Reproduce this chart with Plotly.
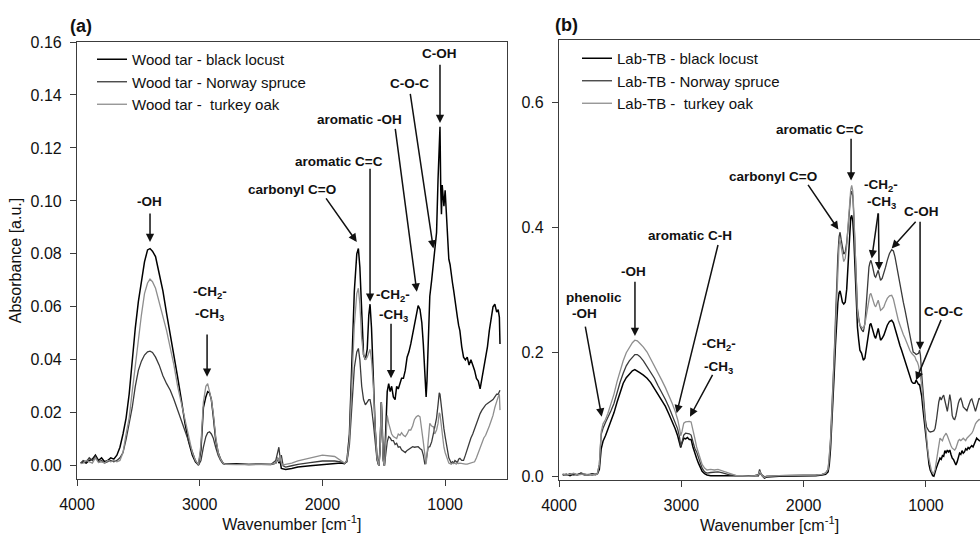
import plotly.graph_objects as go

# ---------------- DATA: panel (a) wood tar ----------------
wn_a = [3970, 3950, 3925, 3900, 3875, 3850, 3825, 3800, 3775, 3750,
        3725, 3700, 3675, 3650, 3625, 3600, 3575, 3550, 3525, 3500,
        3475, 3450, 3425, 3405, 3385, 3360, 3330, 3300, 3270, 3240,
        3210, 3180, 3150, 3120, 3090, 3060, 3035, 3010, 2990, 2970,
        2950, 2935, 2920, 2905, 2890, 2870, 2850, 2830, 2810, 2790,
        2700, 2600, 2500, 2420, 2380, 2365, 2355, 2345, 2335, 2320,
        2300, 2250, 2200, 2100, 2000, 1900, 1850, 1820, 1800, 1780,
        1760, 1740, 1720, 1707, 1695, 1680, 1665, 1650, 1635, 1622,
        1612, 1600, 1585, 1570, 1555, 1540, 1530, 1520, 1515, 1505,
        1495, 1485, 1472, 1460, 1448, 1436, 1422, 1408, 1395, 1382,
        1368, 1355, 1340, 1325, 1310, 1295, 1280, 1265, 1250, 1235,
        1220, 1205, 1190, 1178, 1165, 1155, 1148, 1138, 1125, 1110,
        1096, 1085, 1070, 1058, 1048, 1042, 1036, 1030, 1024, 1018,
        1010, 1000, 990, 980, 970, 960, 950, 940, 930, 920,
        910, 900, 890, 880, 865, 850, 835, 820, 805, 790,
        775, 760, 745, 730, 715, 700, 685, 670, 655, 640,
        625, 610, 595, 580, 568, 558, 553]

tar_black_locust = [
    0.001, 0.0015, 0.001, 0.002, 0.0025, 0.004, 0.002, 0.003, 0.0015, 0.002,
    0.003, 0.0025, 0.004, 0.007, 0.012, 0.018, 0.027, 0.040, 0.052, 0.062,
    0.069, 0.077, 0.0815, 0.082, 0.081, 0.079, 0.0725, 0.066, 0.0575, 0.050,
    0.0415, 0.0335, 0.025, 0.016, 0.009, 0.004, 0.0015, 0.0003, 0.006, 0.022,
    0.026, 0.028, 0.0275, 0.025, 0.019, 0.010, 0.005, 0.0025, 0.001, 0.0006,
    0.0008, 0.0005, 0.0006, 0.0005, 0.001, 0.003, 0.001, 0.002, -0.001, -0.0012,
    -0.0014, -0.001, -0.0005, 0.0, 0.0005, 0.001, 0.001, 0.0008, 0.002, 0.012,
    0.040, 0.066, 0.080, 0.082, 0.075, 0.055, 0.042, 0.040, 0.044, 0.057,
    0.061, 0.052, 0.030, 0.014, 0.003, 0.0, 0.006, 0.024, 0.018, 0.003,
    0.0, 0.012, 0.028, 0.031, 0.028, 0.030, 0.026, 0.025, 0.030, 0.029,
    0.031, 0.033, 0.033, 0.036, 0.041, 0.043, 0.046, 0.050, 0.054, 0.058,
    0.0605, 0.059, 0.054, 0.046, 0.035, 0.026, 0.032, 0.050, 0.064, 0.070,
    0.076, 0.081, 0.088, 0.108, 0.122, 0.128, 0.105, 0.095, 0.106, 0.100,
    0.098, 0.104, 0.094, 0.084, 0.078, 0.076, 0.071, 0.069, 0.066, 0.062,
    0.058, 0.056, 0.053, 0.051, 0.045, 0.041, 0.040, 0.041, 0.038, 0.040,
    0.038, 0.036, 0.033, 0.032, 0.029, 0.033, 0.037, 0.041, 0.045, 0.051,
    0.056, 0.060, 0.061, 0.058, 0.059, 0.056, 0.046]

tar_norway_spruce = [
    0.001, 0.002, 0.0015, 0.003, 0.002, 0.0035, 0.0015, 0.002, 0.001, 0.0015,
    0.002, 0.0015, 0.002, 0.003, 0.005, 0.010, 0.016, 0.022, 0.030, 0.036,
    0.0395, 0.0418, 0.043, 0.0433, 0.0428, 0.041, 0.038, 0.034, 0.031, 0.0285,
    0.025, 0.021, 0.017, 0.013, 0.0085, 0.0045, 0.002, 0.0002, 0.002, 0.007,
    0.011, 0.0125, 0.0128, 0.012, 0.0105, 0.007, 0.004, 0.002, 0.0008, 0.0005,
    0.0005, 0.0004, 0.0005, 0.0005, 0.002, 0.005, 0.007, 0.003, 0.004, 0.0,
    -0.0005, 0.0, 0.0005, 0.0012, 0.0018, 0.0018, 0.0015, 0.001, 0.0015, 0.008,
    0.024, 0.037, 0.043, 0.0443, 0.040, 0.030, 0.025, 0.023, 0.024, 0.025,
    0.025, 0.022, 0.016, 0.008, 0.002, 0.0, 0.008, 0.024, 0.015, 0.002,
    0.0, 0.005, 0.009, 0.011, 0.0105, 0.0095, 0.0095, 0.008, 0.0085, 0.007,
    0.0072, 0.006, 0.0055, 0.005, 0.0058, 0.0062, 0.0068, 0.0072, 0.007, 0.0072,
    0.0072, 0.0065, 0.006, 0.004, 0.0005, 0.002, 0.005, 0.007, 0.0072, 0.009,
    0.012, 0.015, 0.018, 0.023, 0.0275, 0.027, 0.024, 0.0235, 0.020, 0.017,
    0.014, 0.011, 0.008, 0.005, 0.003, 0.002, 0.001, 0.0015, 0.001, 0.002,
    0.0015, 0.0012, 0.0025, 0.0028, 0.002, 0.002, 0.004, 0.0065, 0.0085, 0.0105,
    0.012, 0.014, 0.016, 0.018, 0.0197, 0.021, 0.022, 0.023, 0.0235, 0.024,
    0.0245, 0.025, 0.026, 0.027, 0.027, 0.028, 0.0285]

tar_turkey_oak = [
    0.0008, 0.001, 0.002, 0.0015, 0.001, 0.003, 0.0012, 0.0015, 0.001, 0.002,
    0.0015, 0.002, 0.0015, 0.002, 0.005, 0.012, 0.018, 0.028, 0.038, 0.048,
    0.057, 0.065, 0.069, 0.0705, 0.0695, 0.067, 0.062, 0.057, 0.051, 0.0445,
    0.038, 0.030, 0.0235, 0.017, 0.0105, 0.005, 0.002, 0.0004, 0.008, 0.024,
    0.030, 0.031, 0.028, 0.025, 0.020, 0.011, 0.005, 0.0025, 0.001, 0.0005,
    0.0004, 0.0004, 0.0005, 0.0005, 0.001, 0.003, 0.0015, 0.004, 0.001, 0.0003,
    0.0005, 0.001, 0.0018, 0.003, 0.004, 0.0035, 0.002, 0.001, 0.002, 0.010,
    0.032, 0.053, 0.065, 0.067, 0.061, 0.048, 0.042, 0.040, 0.041, 0.043,
    0.044, 0.040, 0.030, 0.014, 0.003, 0.0, 0.006, 0.024, 0.017, 0.002,
    0.0, 0.009, 0.019, 0.016, 0.014, 0.012, 0.011, 0.0105, 0.0103, 0.012,
    0.0115, 0.0125, 0.0115, 0.011, 0.012, 0.0135, 0.0135, 0.015, 0.0175, 0.0185,
    0.019, 0.0185, 0.014, 0.009, 0.004, 0.0006, 0.004, 0.010, 0.016, 0.015,
    0.0147, 0.012, 0.0135, 0.016, 0.020, 0.0195, 0.017, 0.015, 0.012, 0.010,
    0.007, 0.005, 0.0034, 0.002, 0.001, 0.0008, 0.0006, 0.001, 0.0008, 0.001,
    0.0006, 0.001, 0.0008, 0.001, 0.0008, 0.0007, 0.0006, 0.0006, 0.0008, 0.001,
    0.0012, 0.0015, 0.003, 0.005, 0.0072, 0.009, 0.0105, 0.0115, 0.013, 0.015,
    0.017, 0.019, 0.022, 0.0245, 0.026, 0.027, 0.021]

# ---------------- DATA: panel (b) Lab-TB ----------------
wn_b = [3970, 3940, 3910, 3880, 3850, 3820, 3790, 3760, 3730, 3700,
        3685, 3670, 3655, 3640, 3620, 3600, 3575, 3550, 3525, 3500,
        3475, 3450, 3425, 3400, 3380, 3360, 3340, 3310, 3280, 3250,
        3220, 3190, 3160, 3130, 3100, 3075, 3050, 3030, 3015, 3005,
        2995, 2980, 2965, 2950, 2935, 2920, 2905, 2890, 2875, 2860,
        2845, 2830, 2810, 2790, 2760, 2730, 2700, 2670, 2640, 2600,
        2550, 2500, 2450, 2400, 2370, 2360, 2350, 2340, 2320, 2300,
        2200, 2100, 2000, 1900, 1850, 1820, 1800, 1790, 1780, 1770,
        1760, 1750, 1740, 1730, 1720, 1710, 1702, 1693, 1683, 1672,
        1660, 1648, 1636, 1625, 1615, 1607, 1598, 1590, 1580, 1570,
        1560, 1550, 1540, 1526, 1512, 1499, 1485, 1475, 1466, 1458,
        1450, 1440, 1430, 1420, 1411, 1400, 1390, 1380, 1371, 1358,
        1344, 1330, 1316, 1298, 1280, 1266, 1253, 1240, 1226, 1212,
        1199, 1185, 1171, 1158, 1144, 1130, 1117, 1104, 1090, 1080,
        1070, 1060, 1052, 1045, 1035, 1025, 1015, 1005, 995, 985,
        975, 965, 955, 945, 935, 925, 915, 905, 895, 885,
        875, 865, 855, 845, 835, 825, 815, 805, 795, 785,
        775, 765, 755, 745, 735, 725, 715, 705, 695, 685,
        675, 665, 655, 645, 635, 625, 615, 605, 595, 585,
        575, 565, 558]

tb_black_locust = [
    0.003, 0.004, 0.002, 0.005, 0.003, 0.006, 0.004, 0.003, 0.005, 0.004,
    0.005, 0.012, 0.045, 0.057, 0.066, 0.076, 0.089, 0.103, 0.120, 0.136,
    0.150, 0.159, 0.165, 0.170, 0.172, 0.170, 0.167, 0.163, 0.158, 0.151,
    0.142, 0.133, 0.124, 0.113, 0.100, 0.089, 0.077, 0.066, 0.055, 0.047,
    0.054, 0.062, 0.061, 0.063, 0.060, 0.060, 0.048, 0.037, 0.030, 0.022,
    0.015, 0.009, 0.005, 0.003, 0.002, 0.002, 0.002, 0.002, 0.0015, 0.001,
    0.001, 0.001, 0.0015, 0.001, 0.002, 0.008, 0.004, 0.002, -0.002, 0.0,
    0.001, 0.001, 0.002, 0.002, 0.003, 0.004, 0.008, 0.020, 0.045, 0.080,
    0.120, 0.165, 0.210, 0.250, 0.280, 0.295, 0.298, 0.290, 0.280, 0.277,
    0.280, 0.300, 0.340, 0.390, 0.415, 0.419, 0.410, 0.385, 0.331, 0.280,
    0.240, 0.220, 0.203, 0.198, 0.187, 0.190, 0.2085, 0.228, 0.240, 0.244,
    0.246, 0.238, 0.230, 0.225, 0.222, 0.232, 0.238, 0.228, 0.219, 0.222,
    0.227, 0.235, 0.243, 0.249, 0.251, 0.247, 0.238, 0.228, 0.2165, 0.210,
    0.203, 0.195, 0.187, 0.178, 0.1685, 0.160, 0.1525, 0.150, 0.150, 0.155,
    0.152, 0.148, 0.148, 0.142, 0.130, 0.110, 0.090, 0.070, 0.050, 0.033,
    0.020, 0.011, 0.005, 0.002, 0.001, 0.006, 0.014, 0.020, 0.026, 0.030,
    0.028, 0.034, 0.033, 0.042, 0.038, 0.043, 0.040, 0.043, 0.036, 0.030,
    0.028, 0.022, 0.019, 0.024, 0.032, 0.038, 0.036, 0.042, 0.038, 0.040,
    0.045, 0.043, 0.047, 0.045, 0.048, 0.050, 0.048, 0.052, 0.058, 0.062,
    0.060, 0.058, 0.057]

tb_norway_spruce = [
    0.004, 0.003, 0.005, 0.003, 0.004, 0.005, 0.003, 0.004, 0.003, 0.004,
    0.006, 0.020, 0.068, 0.078, 0.087, 0.095, 0.106, 0.118, 0.136, 0.152,
    0.166, 0.178, 0.186, 0.192, 0.196, 0.196, 0.193, 0.186, 0.177, 0.167,
    0.158, 0.146, 0.136, 0.124, 0.111, 0.099, 0.088, 0.077, 0.064, 0.049,
    0.055, 0.067, 0.070, 0.070, 0.069, 0.067, 0.056, 0.046, 0.040, 0.031,
    0.022, 0.014, 0.008, 0.006, 0.007, 0.008, 0.008, 0.007, 0.005, 0.003,
    0.002, 0.002, 0.002, 0.002, 0.004, 0.012, 0.006, 0.003, 0.0, 0.001,
    0.002, 0.002, 0.003, 0.003, 0.004, 0.006, 0.012, 0.030, 0.060, 0.100,
    0.145, 0.195, 0.250, 0.310, 0.355, 0.385, 0.392, 0.380, 0.365, 0.357,
    0.360, 0.375, 0.400, 0.435, 0.452, 0.458, 0.450, 0.420, 0.368, 0.310,
    0.270, 0.255, 0.243, 0.236, 0.2325, 0.246, 0.288, 0.320, 0.336, 0.343,
    0.347, 0.340, 0.3285, 0.322, 0.320, 0.326, 0.331, 0.322, 0.315, 0.318,
    0.326, 0.336, 0.347, 0.358, 0.364, 0.362, 0.3525, 0.338, 0.3205, 0.307,
    0.294, 0.280, 0.267, 0.254, 0.2405, 0.225, 0.2085, 0.200, 0.198, 0.196,
    0.197, 0.198, 0.203, 0.195, 0.165, 0.135, 0.110, 0.092, 0.080, 0.075,
    0.073, 0.072, 0.072, 0.073, 0.074, 0.078, 0.090, 0.107, 0.120, 0.128,
    0.123, 0.128, 0.131, 0.122, 0.112, 0.105, 0.118, 0.132, 0.120, 0.098,
    0.093, 0.092, 0.098, 0.110, 0.118, 0.124, 0.126, 0.120, 0.112, 0.110,
    0.108, 0.106, 0.112, 0.118, 0.123, 0.125, 0.118, 0.110, 0.105, 0.112,
    0.120, 0.126, 0.124]

tb_turkey_oak = [
    0.005, 0.003, 0.004, 0.006, 0.003, 0.004, 0.005, 0.003, 0.004, 0.003,
    0.006, 0.020, 0.072, 0.085, 0.092, 0.102, 0.117, 0.133, 0.153, 0.171,
    0.186, 0.199, 0.208, 0.215, 0.219, 0.218, 0.214, 0.208, 0.200, 0.189,
    0.179, 0.167, 0.155, 0.143, 0.130, 0.118, 0.105, 0.092, 0.078, 0.066,
    0.072, 0.086, 0.088, 0.0885, 0.089, 0.088, 0.077, 0.062, 0.048, 0.038,
    0.027, 0.020, 0.014, 0.011, 0.012, 0.011, 0.012, 0.010, 0.008, 0.005,
    0.002, 0.002, 0.001, 0.002, 0.003, 0.009, 0.005, 0.002, -0.001, 0.001,
    0.002, 0.002, 0.002, 0.003, 0.004, 0.006, 0.012, 0.030, 0.058, 0.100,
    0.145, 0.195, 0.250, 0.305, 0.345, 0.372, 0.379, 0.368, 0.352, 0.345,
    0.350, 0.370, 0.405, 0.440, 0.460, 0.467, 0.458, 0.425, 0.368, 0.305,
    0.265, 0.252, 0.243, 0.240, 0.238, 0.245, 0.262, 0.278, 0.288, 0.292,
    0.294, 0.287, 0.280, 0.275, 0.2725, 0.278, 0.283, 0.275, 0.267, 0.269,
    0.2725, 0.280, 0.286, 0.290, 0.291, 0.285, 0.2725, 0.262, 0.251, 0.243,
    0.235, 0.228, 0.222, 0.215, 0.2085, 0.202, 0.198, 0.195, 0.1925, 0.187,
    0.184, 0.178, 0.170, 0.162, 0.148, 0.128, 0.105, 0.082, 0.062, 0.043,
    0.028, 0.018, 0.010, 0.006, 0.006, 0.012, 0.025, 0.040, 0.055, 0.062,
    0.060, 0.058, 0.064, 0.068, 0.070, 0.066, 0.060, 0.055, 0.050, 0.046,
    0.044, 0.043, 0.046, 0.052, 0.058, 0.060, 0.058, 0.060, 0.062, 0.060,
    0.058, 0.062, 0.064, 0.066, 0.068, 0.070, 0.074, 0.080, 0.085, 0.088,
    0.090, 0.092, 0.091]

names_a = ["Wood tar - black locust", "Wood tar - Norway spruce", "Wood tar - \u00a0turkey oak"]
names_b = ["Lab-TB - black locust", "Lab-TB - Norway spruce", "Lab-TB - \u00a0turkey oak"]

for arr in (tar_black_locust, tar_norway_spruce, tar_turkey_oak):
    assert len(arr) == len(wn_a), len(arr)
for arr in (tb_black_locust, tb_norway_spruce, tb_turkey_oak):
    assert len(arr) == len(wn_b), len(arr)

# ---------------- STYLE ----------------
FONT = "Liberation Sans, Arial, sans-serif"
COLORS = ["#000000", "#3a3a3a", "#8e8e8e"]
WIDTHS = [1.5, 1.3, 1.3]
AXC = "#3c3c3c"
W, H = 980, 534

fig = go.Figure()
for name, ys, c, w in zip(names_a, [tar_black_locust, tar_norway_spruce, tar_turkey_oak], COLORS, WIDTHS):
    fig.add_trace(go.Scatter(x=wn_a, y=ys, name=name, mode="lines",
                             line=dict(color=c, width=w), xaxis="x", yaxis="y", legend="legend"))
for name, ys, c, w in zip(names_b, [tb_black_locust, tb_norway_spruce, tb_turkey_oak], COLORS, WIDTHS):
    fig.add_trace(go.Scatter(x=wn_b, y=ys, name=name, mode="lines",
                             line=dict(color=c, width=w), xaxis="x2", yaxis="y2", legend="legend2"))

def px(v, total):
    return v / total

axis_common = dict(showline=True, linecolor=AXC, linewidth=1.2, mirror=True, showgrid=False,
                   zeroline=False, ticks="outside", ticklen=6, tickcolor=AXC, tickwidth=1.2,
                   tickfont=dict(family=FONT, size=16, color="#111"), ticklabelstandoff=5,
                   automargin=False)
LEGFONT = dict(family=FONT, size=15, color="#111")

fig.update_layout(
    width=W, height=H, margin=dict(l=0, r=0, t=0, b=0, autoexpand=False),
    paper_bgcolor="white", plot_bgcolor="white",
    font=dict(family=FONT, size=16, color="#111"),
    xaxis=dict(domain=[px(77, W), px(506.5, W)], range=[4000, 500], anchor="y",
               tickvals=[4000, 3000, 2000, 1000],
               title=dict(text="Wavenumber [cm<sup>-1</sup>]", standoff=4,
                          font=dict(family=FONT, size=16, color="#111")), **axis_common),
    yaxis=dict(domain=[1 - 479 / H, 1 - 42 / H], range=[-0.005, 0.16], anchor="x",
               tickvals=[0, 0.02, 0.04, 0.06, 0.08, 0.10, 0.12, 0.14, 0.16], tickformat=".2f",
               title=dict(text="Absorbance [a.u.]", standoff=4,
                          font=dict(family=FONT, size=16, color="#111")), **axis_common),
    xaxis2=dict(domain=[px(559, W), 1.0], range=[4000, 558], anchor="y2",
                tickvals=[4000, 3000, 2000, 1000],
                title=dict(text="Wavenumber [cm<sup>-1</sup>]", standoff=4,
                           font=dict(family=FONT, size=16, color="#111")), **axis_common),
    yaxis2=dict(domain=[1 - 480 / H, 1 - 40 / H], range=[-0.005, 0.7], anchor="x2",
                tickvals=[0, 0.2, 0.4, 0.6], tickformat=".1f", **axis_common),
    legend=dict(x=px(92, W), y=1 - 43 / H, xanchor="left", yanchor="top",
                bgcolor="rgba(0,0,0,0)", font=LEGFONT, tracegroupgap=0, itemwidth=30),
    legend2=dict(x=px(577, W), y=1 - 42 / H, xanchor="left", yanchor="top",
                 bgcolor="rgba(0,0,0,0)", font=LEGFONT, tracegroupgap=0, itemwidth=30),
    showlegend=True,
)

LBL = dict(family=FONT, size=13.5, color="#111")
anns = []

def text(ax, x, y, t, xanchor="center"):
    xr, yr = ("x", "y") if ax == "a" else ("x2", "y2")
    anns.append(dict(x=x, y=y, xref=xr, yref=yr, text="<b>" + t + "</b>", showarrow=False,
                     font=LBL, xanchor=xanchor, yanchor="middle"))

def arrow(ax, x0, y0, x1, y1):
    xr, yr = ("x", "y") if ax == "a" else ("x2", "y2")
    anns.append(dict(x=x1, y=y1, ax=x0, ay=y0, xref=xr, yref=yr, axref=xr, ayref=yr,
                     text="", showarrow=True, arrowhead=2, arrowsize=1.1, arrowwidth=1.5,
                     arrowcolor="#111", standoff=0, startstandoff=0))

# panel (a) labels
text("a", 3413, 0.0999, "-OH");                 arrow("a", 3405, 0.0958, 3405, 0.0845)
text("a", 2920, 0.0655, "-CH<sub>2</sub>-");     text("a", 2920, 0.0572, "-CH<sub>3</sub>")
arrow("a", 2940, 0.0501, 2940, 0.0336)
text("a", 2250, 0.1044, "carbonyl C=O");        arrow("a", 1979, 0.1015, 1720, 0.0845)
text("a", 1866, 0.1150, "aromatic C=C");        arrow("a", 1612, 0.1127, 1612, 0.0619)
text("a", 1694, 0.1308, "aromatic -OH");        arrow("a", 1408, 0.1278, 1231, 0.0657)
text("a", 1294, 0.1445, "C-O-C");               arrow("a", 1286, 0.1410, 1096, 0.0820)
text("a", 1050, 0.1556, "C-OH");                arrow("a", 1042, 0.1520, 1042, 0.1294)
text("a", 1422, 0.0644, "-CH<sub>2</sub>-");     text("a", 1422, 0.0568, "-CH<sub>3</sub>")
arrow("a", 1441, 0.0542, 1441, 0.0330)

# panel (b) labels
text("b", 1866, 0.5563, "aromatic C=C");        arrow("b", 1612, 0.544, 1612, 0.475)
text("b", 2254, 0.4820, "carbonyl C=O");        arrow("b", 1972, 0.4704, 1716, 0.3963)
text("b", 1367, 0.4670, "-CH<sub>2</sub>-");     text("b", 1367, 0.4390, "-CH<sub>3</sub>")
arrow("b", 1389, 0.4245, 1443, 0.350);          arrow("b", 1389, 0.4245, 1383, 0.331)
text("b", 1040, 0.4256, "C-OH")
arrow("b", 1073, 0.4112, 1280, 0.366);          arrow("b", 1048, 0.4112, 1048, 0.2032)
text("b", 860, 0.2656, "C-O-C");                arrow("b", 871, 0.254, 1081, 0.155)
text("b", 2933, 0.3872, "aromatic C-H");        arrow("b", 2697, 0.374, 3038, 0.102)
text("b", 3387, 0.3285, "-OH");                 arrow("b", 3379, 0.3152, 3379, 0.2256)
text("b", 3959, 0.2880, "phenolic", xanchor="left")
text("b", 3910, 0.2616, "-OH", xanchor="left")
arrow("b", 3787, 0.2432, 3651, 0.0965)
text("b", 2692, 0.2120, "-CH<sub>2</sub>-");     text("b", 2692, 0.1757, "-CH<sub>3</sub>")
arrow("b", 2738, 0.166, 2929, 0.0965)

# panel letters
anns.append(dict(x=px(81, W), y=1 - 26 / H, xref="paper", yref="paper", text="<b>(a)</b>",
                 showarrow=False, font=dict(family=FONT, size=18, color="#111"),
                 xanchor="center", yanchor="middle"))
anns.append(dict(x=px(566.5, W), y=1 - 24.5 / H, xref="paper", yref="paper", text="<b>(b)</b>",
                 showarrow=False, font=dict(family=FONT, size=18, color="#111"),
                 xanchor="center", yanchor="middle"))

fig.update_layout(annotations=anns)
fig.write_html("out.html", config={"displayModeBar": False},
               post_script="document.body.style.margin='0';document.body.style.overflow='hidden';")
